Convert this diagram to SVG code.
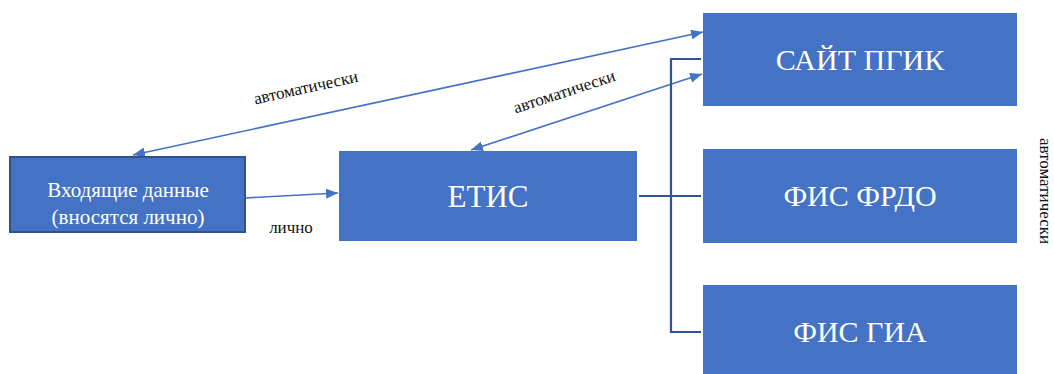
<svg xmlns="http://www.w3.org/2000/svg" width="1054" height="374" viewBox="0 0 1054 374">
<style>
.box{fill:#4472C4}
.bt{fill:#ffffff;font-family:'Liberation Serif','Times New Roman',serif;text-anchor:middle}
.lbl{fill:#111111;font-family:'Liberation Serif','Times New Roman',serif;font-size:17px;text-anchor:middle}
.arr{stroke:#4472C4;stroke-width:1.6;fill:none}
.br{stroke:#2F5597;stroke-width:2.2;fill:none}
</style>
<defs>
<marker id="ah" viewBox="0 0 12 10" refX="12" refY="5" markerWidth="12" markerHeight="10" markerUnits="userSpaceOnUse" orient="auto-start-reverse">
<path d="M0,0 L12,5 L0,10 z" fill="#4472C4"/>
</marker>
</defs>
<rect width="1054" height="374" fill="#ffffff"/>
<g id="connectors">
<line class="arr" x1="133" y1="155" x2="703" y2="32" marker-start="url(#ah)" marker-end="url(#ah)"/>
<line class="arr" x1="471" y1="150" x2="702" y2="74" marker-start="url(#ah)" marker-end="url(#ah)"/>
<line class="arr" x1="245" y1="198" x2="338" y2="193" marker-end="url(#ah)"/>
<path class="br" d="M701,59 H671 V332 H701"/>
<line class="br" x1="639" y1="196" x2="701" y2="196"/>
<text class="lbl" transform="translate(307,93) rotate(-12.4)">автоматически</text>
<text class="lbl" transform="translate(566,97) rotate(-18.2)">автоматически</text>
<text class="lbl" x="291" y="233" font-size="17.5">лично</text>
<text class="lbl" font-size="16" transform="translate(1040,191) rotate(90)">автоматически</text>
</g>
<g id="node-input">
<rect class="box" x="10" y="157" width="235" height="75" stroke="#2F528F" stroke-width="2"/>
<text class="bt" x="128" y="197" font-size="21">Входящие данные</text>
<text class="bt" x="128" y="224" font-size="21">(вносятся лично)</text>
</g>
<g id="node-etis">
<rect class="box" x="339" y="151" width="298" height="90"/>
<text class="bt" x="488" y="207" font-size="31">ЕТИС</text>
</g>
<g id="node-site">
<rect class="box" x="703" y="13" width="314" height="93"/>
<text class="bt" x="860" y="70" font-size="30">САЙТ ПГИК</text>
</g>
<g id="node-frdo">
<rect class="box" x="703" y="149" width="314" height="94"/>
<text class="bt" x="860" y="206" font-size="30">ФИС ФРДО</text>
</g>
<g id="node-gia">
<rect class="box" x="703" y="285" width="314" height="92"/>
<text class="bt" x="860" y="342" font-size="30">ФИС ГИА</text>
</g>
</svg>
